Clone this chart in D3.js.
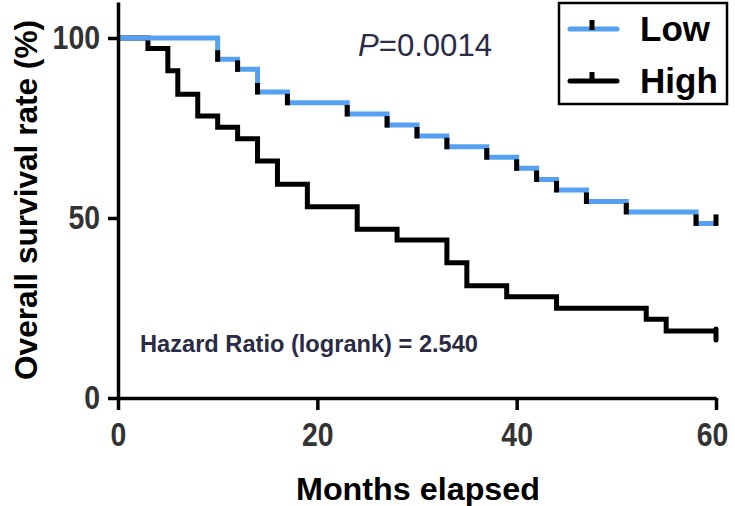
<!DOCTYPE html>
<html><head><meta charset="utf-8">
<script src="https://cdn.jsdelivr.net/npm/d3@7/dist/d3.min.js"></script>
<style>body{margin:0;background:#fff}svg{display:block}</style>
</head><body>
<svg id="c" width="735" height="506"></svg>
<script>
// Data
const lowTimes  = [0, 10, 12, 14, 17, 23, 27, 30, 33, 37, 40, 42, 44, 47, 51, 58, 60];
const lowValues = [100, 94.1, 91.3, 85.0, 82.0, 78.9, 75.8, 72.8, 69.8, 66.9, 63.8, 60.7, 57.8, 54.6, 51.7, 48.5, 48.5];
const lowCensor = [10, 12, 14, 17, 23, 27, 30, 33, 37, 40, 42, 44, 47, 51, 58, 60];
const highTimes  = [0, 3, 5, 6, 8, 10, 12, 14, 16, 19, 24, 28, 33, 35, 39, 44, 53, 55, 60];
const highValues = [100, 97.1, 90.9, 84.4, 78.3, 75.2, 72.0, 65.8, 59.4, 53.1, 46.9, 43.9, 37.6, 31.2, 28.1, 24.9, 21.9, 18.6, 18.6];
const highCensor = [60];
const xTicks = [0, 20, 40, 60];
const yTicks = [0, 50, 100];
const seriesNames = ["Low", "High"];
const colors = {Low: "#55a0f0", High: "#000000"};

const svg = d3.select("#c");
const x = d3.scaleLinear().domain([0, 60]).range([118, 716]);
const y = d3.scaleLinear().domain([0, 110]).range([398, 2]);
const FONT = "'Liberation Sans', Arial, Helvetica, sans-serif";

function stepVal(times, vals, t) {
  let v = vals[0];
  for (let i = 0; i < times.length; i++) if (times[i] <= t) v = vals[i];
  return v;
}

const line = d3.line().x(d => x(d[0])).y(d => y(d[1])).curve(d3.curveStepAfter);
const high = highTimes.map((t, i) => [t, highValues[i]]);
const low = lowTimes.map((t, i) => [t, lowValues[i]]);

// curves
svg.append("path").attr("d", line(high)).attr("fill", "none")
  .attr("stroke", colors.High).attr("stroke-width", 5);
svg.append("path").attr("d", line(low)).attr("fill", "none")
  .attr("stroke", colors.Low).attr("stroke-width", 5);

// censor ticks
svg.append("g").selectAll("line").data(lowCensor).join("line")
  .attr("x1", d => x(d)).attr("x2", d => x(d))
  .attr("y1", d => y(stepVal(lowTimes, lowValues, d)) + 2.5)
  .attr("y2", d => y(stepVal(lowTimes, lowValues, d)) - 9)
  .attr("stroke", "#000").attr("stroke-width", 5);
svg.append("g").selectAll("line").data(highCensor).join("line")
  .attr("x1", d => x(d)).attr("x2", d => x(d))
  .attr("y1", d => y(stepVal(highTimes, highValues, d)) - 2)
  .attr("y2", d => y(stepVal(highTimes, highValues, d)) + 9)
  .attr("stroke", "#000").attr("stroke-width", 5).attr("stroke-linecap", "round");

// axes
const yAxis = svg.append("g").attr("transform", `translate(${x(0)},0)`)
  .call(d3.axisLeft(y).tickValues(yTicks).tickSize(10).tickSizeOuter(0).tickPadding(8));
const xAxis = svg.append("g").attr("transform", `translate(0,${y(0)})`)
  .call(d3.axisBottom(x).tickValues(xTicks).tickSize(12).tickSizeOuter(0).tickPadding(13));
[yAxis, xAxis].forEach(g => {
  g.selectAll("path.domain").attr("stroke", "#000").attr("stroke-width", 3.5);
  g.selectAll(".tick line").attr("stroke", "#000").attr("stroke-width", 3.5);
  g.selectAll(".tick text").attr("fill", "#333").attr("font-family", FONT)
    .attr("font-weight", "bold").attr("font-size", 33)
    .each(function() {
      const n = this.textContent.length;
      d3.select(this).attr("textLength", n * 15.8).attr("lengthAdjust", "spacingAndGlyphs");
    });
});
xAxis.selectAll(".tick text").filter(d => d === 60).attr("dx", -4);

// axis titles
svg.append("text").attr("transform", "translate(37,200) rotate(-90)")
  .attr("text-anchor", "middle").attr("font-family", FONT).attr("font-weight", "bold")
  .attr("font-size", 32).attr("fill", "#000")
  .attr("textLength", 360).attr("lengthAdjust", "spacingAndGlyphs")
  .text("Overall survival rate (%)");
svg.append("text").attr("x", 418).attr("y", 500)
  .attr("text-anchor", "middle").attr("font-family", FONT).attr("font-weight", "bold")
  .attr("font-size", 32).attr("fill", "#000")
  .attr("textLength", 244).attr("lengthAdjust", "spacingAndGlyphs")
  .text("Months elapsed");

// annotations
const p = svg.append("text").attr("x", 358).attr("y", 56).attr("font-family", FONT)
  .attr("font-size", 31).attr("fill", "#2a2b45")
  .attr("textLength", 134).attr("lengthAdjust", "spacingAndGlyphs");
p.append("tspan").attr("font-style", "italic").text("P");
p.append("tspan").text("=0.0014");
svg.append("text").attr("x", 140).attr("y", 352).attr("font-family", FONT)
  .attr("font-weight", "bold").attr("font-size", 23.5).attr("fill", "#2a2b45")
  .attr("textLength", 338).attr("lengthAdjust", "spacingAndGlyphs")
  .text("Hazard Ratio (logrank) = 2.540");

// legend
const lg = svg.append("g");
lg.append("rect").attr("x", 559).attr("y", 3).attr("width", 168).attr("height", 101)
  .attr("fill", "#fff").attr("stroke", "#000").attr("stroke-width", 2.5);
seriesNames.forEach((s, i) => {
  const yy = 29 + i * 52;
  lg.append("line").attr("x1", 570).attr("x2", 617).attr("y1", yy).attr("y2", yy)
    .attr("stroke", colors[s]).attr("stroke-width", 5).attr("stroke-linecap", "round");
  lg.append("line").attr("x1", 592).attr("x2", 592).attr("y1", yy + 1).attr("y2", yy - 9)
    .attr("stroke", "#000").attr("stroke-width", 5);
  lg.append("text").attr("x", 640).attr("y", yy + 12).attr("font-family", FONT)
    .attr("font-weight", "bold").attr("font-size", 35).attr("fill", "#000").text(s);
});
</script>
</body></html>
